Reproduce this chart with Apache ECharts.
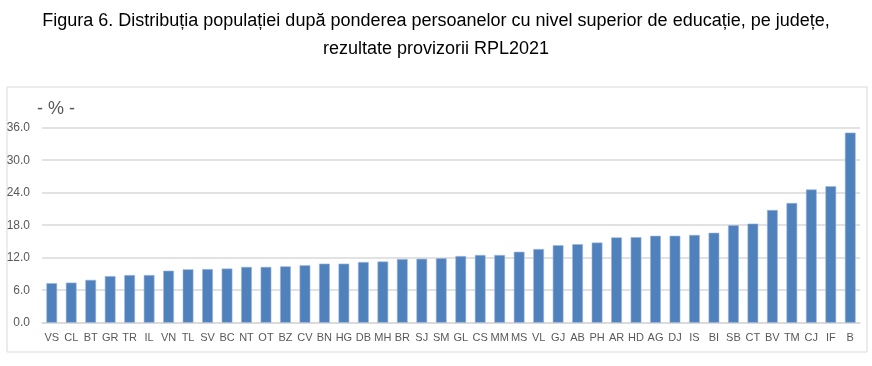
<!DOCTYPE html>
<html><head><meta charset="utf-8">
<script src="https://cdn.jsdelivr.net/npm/echarts@6/dist/echarts.min.js"></script>
<style>html,body{margin:0;padding:0;background:#fff}#c{width:872px;height:366px}</style>
</head><body><div id="c"></div>
<script>
const titleLines = ["Figura 6. Distribuția populației după ponderea persoanelor cu nivel superior de educație, pe județe,", "rezultate provizorii RPL2021"];
const unitLabel = "- % -";
const categories = ["VS","CL","BT","GR","TR","IL","VN","TL","SV","BC","NT","OT","BZ","CV","BN","HG","DB","MH","BR","SJ","SM","GL","CS","MM","MS","VL","GJ","AB","PH","AR","HD","AG","DJ","IS","BI","SB","CT","BV","TM","CJ","IF","B"];
const values = [7.3,7.4,7.9,8.6,8.8,8.8,9.6,9.85,9.9,10.0,10.3,10.3,10.4,10.6,10.9,10.9,11.2,11.3,11.75,11.8,11.9,12.3,12.5,12.5,13.1,13.6,14.3,14.5,14.8,15.75,15.8,16.05,16.05,16.2,16.6,18.0,18.3,20.8,22.1,24.6,25.2,35.1];
const yTicks = [0,6,12,18,24,30,36];

const chart = echarts.init(document.getElementById('c'), null, {renderer:'canvas'});
chart.setOption({
  animation:false,
  backgroundColor:'#fff',
  graphic:[
    {type:'rect', shape:{x:7,y:87,width:860,height:265}, style:{fill:'none', stroke:'#d9d9d9', lineWidth:1}, z:-1},
    {type:'text', left:'center', top:12, style:{text:titleLines[0], fontSize:18, fontFamily:'Liberation Sans', fill:'#000'}},
    {type:'text', left:'center', top:40, style:{text:titleLines[1], fontSize:18, fontFamily:'Liberation Sans', fill:'#000'}},
    {type:'text', left:37, top:100, style:{text:unitLabel, fontSize:18, fontFamily:'Liberation Sans', fill:'#595959'}}
  ],
  grid:{left:42, right:12, top:127.7, bottom:366-322.7, containLabel:false},
  xAxis:{type:'category', data:categories,
    axisLine:{show:true, lineStyle:{color:'#d9d9d9', width:1.5}},
    axisTick:{show:false},
    axisLabel:{interval:0, color:'#595959', fontSize:11, fontFamily:'Liberation Sans', margin:10}},
  yAxis:{type:'value', min:yTicks[0], max:yTicks[yTicks.length-1], interval:6,
    axisLine:{show:false}, axisTick:{show:false},
    splitLine:{lineStyle:{color:'#d9d9d9', width:1.5}},
    axisLabel:{color:'#595959', fontSize:12, fontFamily:'Liberation Sans', margin:12,
      formatter:v=>v.toFixed(1)}},
  series:[{type:'bar', data:values, barWidth:'55%',
    itemStyle:{color:'#4F81BD', borderColor:'#9db6d8', borderWidth:0.6}}]
});
</script></body></html>
